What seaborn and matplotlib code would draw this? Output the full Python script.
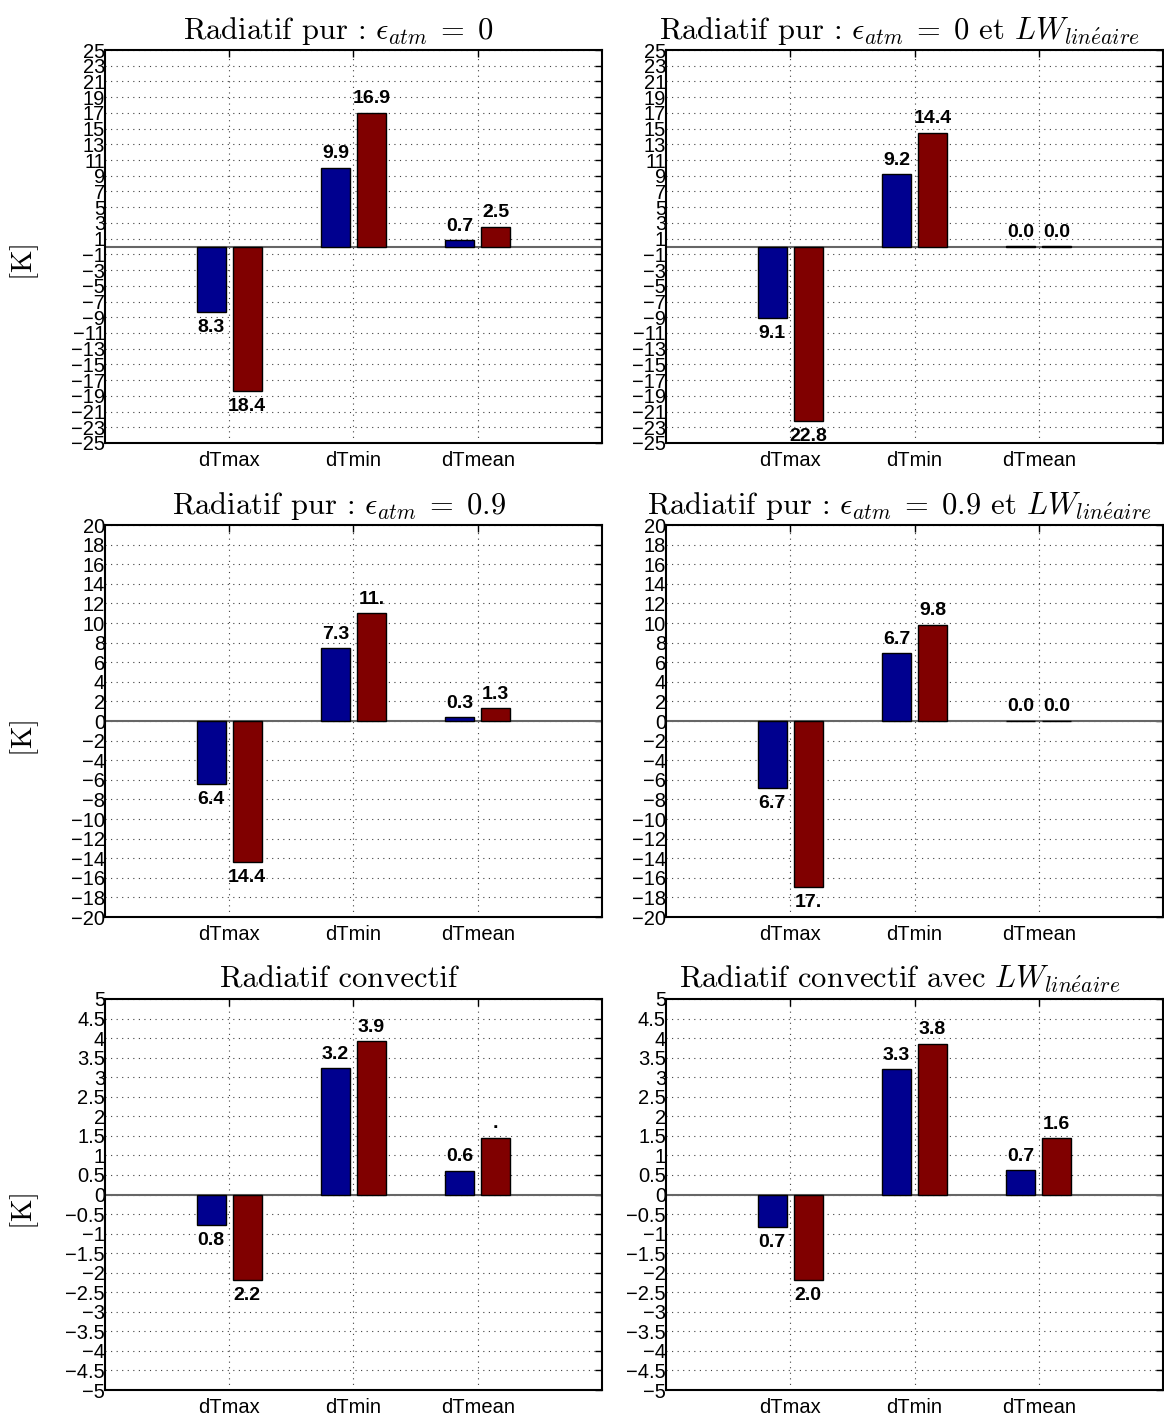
import numpy as np
import pandas as pd
import seaborn as sns
import matplotlib.pyplot as plt

# data
categories = ['dTmax', 'dTmin', 'dTmean']
series = ['a', 'b']
titles = [r'Radiatif pur : $\epsilon_{atm}\;=\;0$',
          r'Radiatif pur : $\epsilon_{atm}\;=\;0$ et $LW_{lin\acute{e}aire}$',
          r'Radiatif pur : $\epsilon_{atm}\;=\;0.9$',
          r'Radiatif pur : $\epsilon_{atm}\;=\;0.9$ et $LW_{lin\acute{e}aire}$',
          r'Radiatif convectif',
          r'Radiatif convectif avec $LW_{lin\acute{e}aire}$']
blue_vals = [[-8.3, 10.0, 0.8],
             [-9.1, 9.2, 0.05],
             [-6.4, 7.4, 0.4],
             [-6.8, 6.9, 0.05],
             [-0.79, 3.23, 0.6],
             [-0.82, 3.2, 0.62]]
red_vals = [[-18.4, 17.0, 2.5],
            [-22.2, 14.5, 0.05],
            [-14.4, 11.0, 1.3],
            [-16.9, 9.8, 0.05],
            [-2.18, 3.92, 1.45],
            [-2.19, 3.85, 1.44]]
blue_labels = [['8.3', '9.9', '0.7'],
               ['9.1', '9.2', '0.0'],
               ['6.4', '7.3', '0.3'],
               ['6.7', '6.7', '0.0'],
               ['0.8', '3.2', '0.6'],
               ['0.7', '3.3', '0.7']]
red_labels = [['18.4', '16.9', '2.5'],
              ['22.8', '14.4', '0.0'],
              ['14.4', '11.', '1.3'],
              ['17.', '9.8', '0.0'],
              ['2.2', '3.9', '.'],
              ['2.0', '3.8', '1.6']]
ylimits = [25, 25, 20, 20, 5, 5]
ysteps = [2, 2, 2, 2, 0.5, 0.5]
colors = ['#00008F', '#800000']

sns.set_style('white')
plt.rcParams['font.family'] = ['Liberation Sans', 'DejaVu Sans']
plt.rcParams['mathtext.fontset'] = 'cm'
plt.rcParams['text.color'] = 'black'
plt.rcParams['xtick.color'] = 'black'
plt.rcParams['ytick.color'] = 'black'

fig = plt.figure(figsize=(11.64, 14.2), dpi=100)
W, H = 1164.0, 1420.0
lefts = [105, 666]
tops = [50, 525, 999]
bottoms = [443, 917, 1390]
klabel_y = [262, 738, 1211]

for i in range(6):
    r, c = divmod(i, 2)
    ax = fig.add_axes([lefts[c] / W, 1 - bottoms[r] / H,
                       497 / W, (bottoms[r] - tops[r]) / H])
    df = pd.DataFrame({
        'cat': categories * 2,
        'serie': ['a'] * 3 + ['b'] * 3,
        'val': blue_vals[i] + red_vals[i],
    })
    sns.barplot(data=df, x='cat', y='val', hue='serie', order=categories,
                hue_order=series, palette=colors, saturation=1,
                width=0.58, gap=0.2, edgecolor='black', linewidth=1,
                legend=False, ax=ax)
    ax.axhline(0, color='0.4', lw=1.5, zorder=0.9)

    # value labels, absolute value shown
    for cont, labs in zip(ax.containers, [blue_labels[i], red_labels[i]]):
        for bar, lab in zip(cont, labs):
            xc = bar.get_x() + bar.get_width() / 2
            end = bar.get_y() + bar.get_height()
            if end < 0:
                ax.annotate(lab, (xc, end), xytext=(0, -5),
                            textcoords='offset points', ha='center', va='top',
                            fontsize=14, fontweight='bold')
            else:
                ax.annotate(lab, (xc, end), xytext=(0, 4),
                            textcoords='offset points', ha='center', va='bottom',
                            fontsize=14, fontweight='bold')

    lim = ylimits[i]
    ticks = np.arange(-lim, lim + ysteps[i] / 2, ysteps[i])
    ax.set_yticks(ticks, labels=[f'{t:g}'.replace('-', '\u2212') for t in ticks])
    ax.set_ylim(-lim, lim)
    ax.set_xlim(-1, 3)
    ax.set_xticks([0, 1, 2], labels=categories)
    ax.set_xlabel('')
    ax.set_ylabel('')
    ax.tick_params(axis='y', labelsize=14.5, pad=0)
    ax.tick_params(axis='x', labelsize=14.5, pad=6)
    ax.tick_params(direction='in', top=True, right=True, length=5, width=1)
    ax.grid(True, linestyle=(0, (1, 4)), color='0.25', linewidth=0.8)
    ax.set_axisbelow(True)
    for sp in ax.spines.values():
        sp.set_linewidth(1.5)
        sp.set_color('black')
    ax.set_title(titles[i], fontsize=22, pad=8, x=0.47, fontfamily='cmr10')
    if c == 0:
        fig.text(25 / W, 1 - klabel_y[r] / H, r'$\mathrm{[K]}$', rotation=90,
                 ha='center', va='center', fontsize=21)

fig.savefig('out.png', dpi=100)
